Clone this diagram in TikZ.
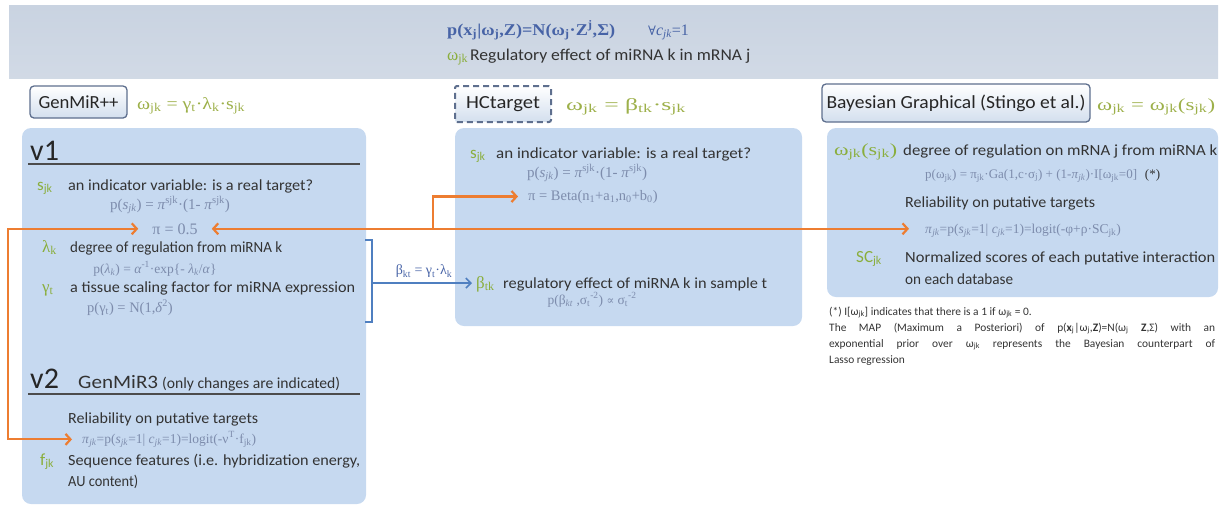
\documentclass[tikz,border=0pt]{standalone}
\usepackage{graphicx}
\usepackage{fontspec}
\setmainfont{Carlito}
\newfontfamily\fm{Liberation Serif}
\newfontfamily\dsym{DejaVu Serif}
\usetikzlibrary{arrows.meta,calc}
\definecolor{panelc}{HTML}{C6D9F0}
\definecolor{bannerc}{HTML}{C9D3E1}
\definecolor{varc}{HTML}{8AAE3C}
\definecolor{hdrc}{HTML}{9DB04A}
\definecolor{frmc}{HTML}{7D8CAC}
\definecolor{topc}{HTML}{4763A6}
\definecolor{bodyc}{HTML}{333333}
\definecolor{orng}{HTML}{ED7D31}
\definecolor{barrc}{HTML}{4F7FC0}
\definecolor{methb}{HTML}{5E6F8E}
\definecolor{methf}{HTML}{D3DFEE}
\newcommand\sbs[1]{\textsubscript{#1}}
\newcommand\sps[1]{\textsuperscript{#1}}
\newcommand\fw[2]{\resizebox{#1pt}{\height}{#2}}
\tikzset{
 body/.style={inner sep=0pt, anchor=base west, text=bodyc, font=\fontsize{15.5}{17}\selectfont},
 frm/.style={inner sep=0pt, anchor=base west, text=frmc, font=\fm\fontsize{13.5}{16}\selectfont},
 vsym/.style={inner sep=0pt, anchor=base west, text=varc, font=\fontsize{17}{18}\selectfont},
 gsym/.style={inner sep=0pt, anchor=base west, text=varc, font=\fm\fontsize{17}{18}\selectfont},
 hdr/.style={inner sep=0pt, anchor=base west, text=hdrc, font=\fm\fontsize{17}{18}\selectfont},
 vlab/.style={inner sep=0pt, anchor=base west, text=black!85, font=\fontsize{30}{32}\selectfont},
 panelbox/.style={fill=panelc, rounded corners=9pt},
 method/.style={draw=methb, line width=1.3pt, rounded corners=4pt, top color=white, bottom color=methf, inner sep=0pt, font=\fontsize{18.5}{20}\selectfont, text=black!85},
 rulel/.style={draw=black!70, line width=1.2pt},
 oarr/.style={draw=orng, line width=2.2pt, arrows={-Straight Barb[length=5pt,width=11pt]}},
 barr/.style={draw=barrc, line width=1.6pt},
 foot/.style={inner sep=0pt, anchor=base west, text=bodyc, font=\fontsize{11.4}{13}\selectfont},
}
\begin{document}
\begin{tikzpicture}[x=1pt,y=-1pt]
\useasboundingbox (0,0) rectangle (1225,507);
% banner
\fill[top color=bannerc, bottom color=bannerc!85!white] (9,5) rectangle (1218,78);
\node[inner sep=0pt, anchor=base west, text=topc, font=\fm\bfseries\fontsize{16.5}{18}\selectfont] (eq) at (447,35)
 {\fw{168}{p(x\sbs{j}|ω\sbs{j},Z)=N(ω\sbs{j}·Z\sps{j},Σ)}};
\node[inner sep=0pt, anchor=base west, text=topc, font=\fm\fontsize{16}{18}\selectfont] (forall) at (648,35)
 {{\dsym\fontsize{13}{16}\selectfont ∀}\textit{c}\sbs{\textit{jk}}=1};
\node[gsym] (omg) at (447,60) {ω\sbs{jk}};
\node[body, font=\fontsize{16.5}{18}\selectfont] (omgt) at (470,60) {\fw{280}{Regulatory effect of miRNA k in mRNA j}};

% ===== GenMiR++ =====
\node[method, minimum width=97pt, minimum height=32pt] (genmir) at (78.5,102) {\fw{80}{GenMiR++}};
\node[hdr] (wgen) at (137,109) {\fw{108}{ω\sbs{jk} = γ\sbs{t}·λ\sbs{k}·s\sbs{jk}}};
\fill[panelbox] (22,128) rectangle (366,504);
\node[vlab] (v1) at (30,160) {v1};
\draw[rulel] (28,164) -- (360,164);
\node[vsym] (s1) at (37,190) {s\sbs{jk}};
\node[body] (s1t) at (68,190) {\fw{245}{an indicator variable: is a real target?}};
\node[frm, anchor=base, font=\fm\fontsize{15}{16}\selectfont] (ps1) at (170,209) {p(\textit{s}\sbs{\textit{jk}}) = \textit{π}\sps{sjk}·(1- \textit{π}\sps{sjk})};
\node[frm, anchor=base, font=\fm\fontsize{16}{16}\selectfont] (pi05) at (175,234) {π = 0.5};
\node[gsym] (lam) at (42,252) {λ\sbs{k}};
\node[body] (lamt) at (70,252) {\fw{212}{degree of regulation from miRNA k}};
\node[frm, anchor=base] (plam) at (155,273) {p(\textit{λ}\sbs{\textit{k}}) = \textit{α}\sps{-1}·exp\{- \textit{λ}\sbs{\textit{k}}/\textit{α}\}};
\node[gsym] (gam) at (42,292) {γ\sbs{t}};
\node[body] (gamt) at (70,292) {\fw{285}{a tissue scaling factor for miRNA expression}};
\node[frm, anchor=base, font=\fm\fontsize{14.5}{16}\selectfont] (pgam) at (130,312) {p(γ\sbs{t}) = N(1,\textit{δ}\sps{2})};
\node[vlab] (v2) at (30,388) {v2};
\node[body, font=\fontsize{19}{20}\selectfont] (gm3) at (78,388) {\fw{80}{GenMiR3}};
\node[body] (gm3b) at (162,388) {\fw{178}{(only changes are indicated)}};
\draw[rulel] (28,394) -- (360,394);
\node[body] (rel2) at (68,423) {\fw{190}{Reliability on putative targets}};
\node[frm] (pijk2) at (82,443) {\textit{π}\sbs{\textit{jk}}=p(\textit{s}\sbs{\textit{jk}}=1| \textit{c}\sbs{\textit{jk}}=1)=logit(-ν\sps{T}·f\sbs{jk})};
\node[vsym] (fjk) at (40,465) {f\sbs{jk}};
\node[body] (fjkt) at (68,465) {\fw{292}{Sequence features (i.e. hybridization energy,}};
\node[body] (fjkt2) at (68,486) {\fw{70}{AU content)}};

% ===== HCtarget =====
\node[method, rounded corners=2pt, dashed, dash pattern=on 6pt off 4pt, line width=2pt, minimum width=96pt, minimum height=36pt] (hct) at (503,104) {\fw{74}{HCtarget}};
\node[hdr] (whc) at (566,110) {\fw{120}{ω\sbs{jk} = β\sbs{tk}·s\sbs{jk}}};
\fill[panelbox] (455,128) rectangle (802,326);
\node[vsym] (s2) at (470,158) {s\sbs{jk}};
\node[body] (s2t) at (496,158) {\fw{255}{an indicator variable: is a real target?}};
\node[frm, anchor=base, font=\fm\fontsize{15}{16}\selectfont] (ps2) at (587,177) {p(\textit{s}\sbs{\textit{jk}}) = \textit{π}\sps{sjk}·(1- \textit{π}\sps{sjk})};
\node[frm, font=\fm\fontsize{14.5}{16}\selectfont] (pibeta) at (528,200) {π = Beta(n\sbs{1}+a\sbs{1},n\sbs{0}+b\sbs{0})};
\node[gsym] (beta) at (476,288) {β\sbs{tk}};
\node[body] (betat) at (503,288) {\fw{264}{regulatory effect of miRNA k in sample t}};
\node[frm, anchor=base] (pbeta) at (592,304) {p(β\sbs{\textit{kt}} ,σ\sbs{t}\sps{-2}) {\dsym\fontsize{11.5}{14}\selectfont ∝} σ\sbs{t}\sps{-2}};

% ===== Bayesian Graphical =====
\node[method, minimum width=268pt, minimum height=38pt] (bay) at (956,103) {\fw{259}{Bayesian Graphical (Stingo et al.)}};
\node[hdr] (wbay) at (1097,110) {\fw{118}{ω\sbs{jk} = ω\sbs{jk}(s\sbs{jk})}};
\fill[panelbox] (827,128) rectangle (1218,297);
\node[gsym] (wsj) at (834,155) {\fw{63}{ω\sbs{jk}(s\sbs{jk})}};
\node[body] (wsjt) at (903,155) {\fw{314}{degree of regulation on mRNA j from miRNA k}};
\node[frm, font=\fm\fontsize{13}{15}\selectfont] (pw) at (925,178) {p(ω\sbs{jk}) = π\sbs{jk}·Ga(1,c·σ\sbs{j}) + (1-\textit{π}\sbs{\textit{jk}})·I[ω\sbs{jk}=0]\hspace{0.6em}{\color{bodyc}(*)}};
\node[body] (rel3) at (905,207) {\fw{190}{Reliability on putative targets}};
\node[frm] (pijkR) at (925,233) {\textit{π}\sbs{\textit{jk}}=p(\textit{s}\sbs{\textit{jk}}=1| \textit{c}\sbs{\textit{jk}}=1)=logit(-φ+ρ·SC\sbs{jk})};
\node[vsym] (scjk) at (856,262) {SC\sbs{jk}};
\node[body] (scjkt) at (905,262) {\fw{310}{Normalized scores of each putative interaction}};
\node[body] (scjkt2) at (905,284) {\fw{108}{on each database}};
\node[foot] (fn1) at (829,315) {(*) I[ω\sbs{jk}] indicates that there is a 1 if ω\sbs{jk} = 0.};
\node[foot] (fn2) at (829,331) {\makebox[386pt][s]{The MAP (Maximum a Posteriori) of p(\textbf{x}\sbs{j}|ω\sbs{j},\textbf{Z})=N(ω\sbs{j} \textbf{Z},Σ) with an}};
\node[foot] (fn3) at (829,347) {\makebox[386pt][s]{exponential prior over ω\sbs{jk} represents the Bayesian counterpart of}};
\node[foot] (fn4) at (829,363) {Lasso regression};

% ===== connectors =====
\coordinate (lft) at (8,0);
\coordinate (br) at (433,0);
\draw[oarr, arrows={Straight Barb[length=5pt,width=11pt]-Straight Barb[length=5pt,width=11pt]}, shorten <=14pt, shorten >=10pt]
  (pi05.west) -- (pi05.west -| lft) |- (pijk2.west);
\draw[oarr, arrows={Straight Barb[length=5pt,width=11pt]-Straight Barb[length=5pt,width=11pt]}, shorten <=14pt, shorten >=16pt]
  (pi05.east) -- (pi05.east -| pijkR.west);
\draw[oarr, shorten >=10pt] (pi05.east -| br) |- (pibeta.west);
% bracket and blue arrow
\coordinate (brk) at (372,283);
\draw[barr] (365,240) -- (372,240) -- (372,322) -- (365,322);
\draw[barr, arrows={-Straight Barb[length=5pt,width=10pt]}, shorten >=4pt] (brk) -- (brk -| beta.west)
  node[midway, above=1pt, text=topc, font=\fm\fontsize{14}{14}\selectfont] (blab) {β\sbs{kt} = γ\sbs{t}·λ\sbs{k}};
\end{tikzpicture}
\end{document}
